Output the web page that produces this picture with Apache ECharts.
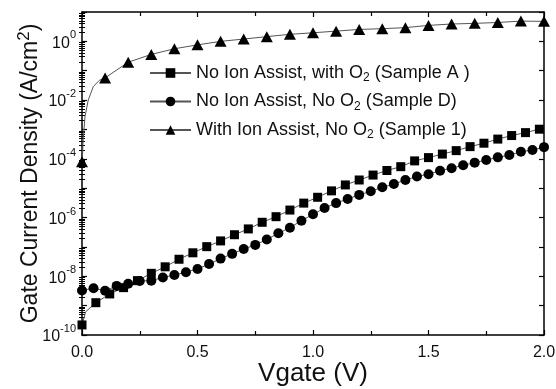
<!DOCTYPE html>
<html><head><meta charset="utf-8">
<script src="https://cdn.jsdelivr.net/npm/echarts@6/dist/echarts.min.js"></script>
<style>html,body{margin:0;padding:0;background:#fff}#c{width:556px;height:389px}</style>
</head><body><div id="c"></div>
<script>
// ---- data ----
const seriesNames = [
  'No Ion Assist, with O2 (Sample A )',
  'No Ion Assist, No O2 (Sample D)',
  'With Ion Assist, No O2 (Sample 1)'
];
const sampleAX = [0,0.06,0.12,0.18,0.24,0.30,0.36,0.42,0.48,0.54,0.60,0.66,0.72,0.78,0.84,0.90,0.96,1.02,1.08,1.14,1.20,1.26,1.32,1.38,1.44,1.50,1.56,1.62,1.68,1.74,1.80,1.86,1.92,1.98];
const sampleAY = [2.2e-10,1.26e-9,2.5e-9,4.1e-9,7.1e-9,1.26e-8,2.1e-8,3.8e-8,6.3e-8,1.02e-7,1.6e-7,2.6e-7,4.1e-7,6.9e-7,1.07e-6,1.8e-6,3.1e-6,4.9e-6,8.1e-6,1.29e-5,1.9e-5,2.8e-5,4.0e-5,5.4e-5,8.5e-5,1.1e-4,1.45e-4,1.9e-4,2.6e-4,3.4e-4,4.7e-4,6.2e-4,7.8e-4,1.02e-3];
const sampleAFitX = [0.016];
const sampleAFitY = [6.2e-10];
const sampleDX = [0,0.05,0.10,0.15,0.20,0.25,0.30,0.35,0.40,0.45,0.50,0.55,0.60,0.65,0.70,0.75,0.80,0.85,0.90,0.95,1.00,1.05,1.10,1.15,1.20,1.25,1.30,1.35,1.40,1.45,1.50,1.55,1.60,1.65,1.70,1.75,1.80,1.85,1.90,1.95,2.00];
const sampleDY = [3.3e-9,3.9e-9,3.2e-9,4.7e-9,5.6e-9,6.9e-9,7.1e-9,9.1e-9,1.1e-8,1.38e-8,1.78e-8,2.6e-8,4.0e-8,5.8e-8,8.5e-8,1.17e-7,1.8e-7,2.9e-7,4.5e-7,7.8e-7,1.29e-6,2.1e-6,3.1e-6,4.3e-6,5.9e-6,7.9e-6,1.07e-5,1.38e-5,1.9e-5,2.5e-5,3.0e-5,3.9e-5,4.8e-5,6.0e-5,7.4e-5,9.1e-5,1.12e-4,1.35e-4,1.74e-4,2.0e-4,2.5e-4];
const sample1X = [0,0.1,0.2,0.3,0.4,0.5,0.6,0.7,0.8,0.9,1.0,1.1,1.2,1.3,1.4,1.5,1.6,1.7,1.8,1.9,2.0];
const sample1Y = [7.9e-5,0.057,0.195,0.36,0.56,0.76,1.0,1.2,1.45,1.74,1.96,2.23,2.55,2.7,2.93,3.5,3.9,4.1,4.4,4.9,4.8];
const sample1FitX = [0.002,0.005,0.013,0.027,0.049,0.075];
const sample1FitY = [1.2e-4,4.4e-4,2.75e-3,1.0e-2,0.029,0.047];
const xTickLabels = ['0.0','0.5','1.0','1.5','2.0'];
const yMajorTicks = [1e-10,1e-9,1e-8,1e-7,1e-6,1e-5,1e-4,1e-3,1e-2,1e-1,1,10];
const yLabelValues = [1e-10,1e-8,1e-6,1e-4,1e-2,1];

// minor log ticks (2..9 in each decade)
const yMinorTicks = [];
for (let e = -10; e < 1; e++) for (let m = 2; m <= 9; m++) yMinorTicks.push(m * Math.pow(10, e));

function merge(xs, ys, fx, fy) {
  const pts = xs.map((x, i) => ({ value: [x, ys[i]] }));
  fx.forEach((x, i) => pts.push({ value: [x, fy[i]], symbol: 'none' }));
  pts.sort((a, b) => a.value[0] - b.value[0]);
  return pts;
}

const FONT = 'Liberation Sans, Arial, sans-serif';
const black = '#000';
const TXT = '#111';
const axisLine = { show: true, onZero: false, lineStyle: { color: black, width: 1.5 } };

const chart = echarts.init(document.getElementById('c'), null, { renderer: 'canvas' });
function legendFmt(name) {
  return name.replace('O2', 'O{sub|2}');
}

chart.setOption({
  animation: false,
  backgroundColor: '#fff',
  textStyle: { fontFamily: FONT },
  grid: { left: 82, right: 12, top: 12, bottom: 54, containLabel: false, outerBoundsMode: 'none' },
  legend: {
    orient: 'vertical', left: 144, top: 59, itemGap: 8.5,
    itemWidth: 41, itemHeight: 12, itemTextGap: 7,
    data: seriesNames,
    formatter: legendFmt,
    textStyle: { fontSize: 18, fontFamily: FONT, color: TXT,
      rich: { sub: { fontSize: 12, fontFamily: FONT, color: TXT, padding: [10, 0, 0, 0] } } }
  },
  xAxis: [
    {
      type: 'value', min: 0, max: 2, interval: 0.5, position: 'bottom',
      axisLine: axisLine,
      axisTick: { inside: true, length: 5, lineStyle: { color: black, width: 1.2 } },
      minorTick: { show: true, splitNumber: 2, length: 4, lineStyle: { color: black, width: 1.2 } },
      splitLine: { show: false },
      axisLabel: { fontSize: 16, color: TXT, margin: 10, fontFamily: FONT,
        formatter: v => xTickLabels[Math.round(v / 0.5)] },
      name: 'Vgate (V)', nameLocation: 'middle', nameGap: 26, nameMoveOverlap: false,
      nameTextStyle: { fontSize: 26, color: TXT, fontFamily: FONT }
    },
    {
      type: 'value', min: 0, max: 2, interval: 0.5, position: 'top',
      axisLine: axisLine,
      axisTick: { inside: true, length: 5, lineStyle: { color: black, width: 1.2 } },
      minorTick: { show: true, splitNumber: 2, length: 4, lineStyle: { color: black, width: 1.2 } },
      splitLine: { show: false }, axisLabel: { show: false }
    }
  ],
  yAxis: [
    {
      type: 'log', logBase: 10, min: 1e-10, max: 10, position: 'left',
      axisLine: axisLine,
      axisTick: { inside: true, length: 5, customValues: yMajorTicks, lineStyle: { color: black, width: 1.2 } },
      splitLine: { show: false },
      axisLabel: {
        customValues: yLabelValues, margin: 6, color: TXT,
        formatter: v => '{b|10}{sup|' + Math.round(Math.log10(v)) + '}',
        rich: {
          b: { fontSize: 16, fontFamily: FONT, color: TXT, padding: [4, 0, 0, 0] },
          sup: { fontSize: 11, fontFamily: FONT, color: TXT, padding: [0, 0, 12, 0] }
        }
      },
      name: '{n|Gate Current Density (A/cm}{sup|2}{n|)}',
      nameLocation: 'middle', nameGap: 37, nameMoveOverlap: false,
      nameTextStyle: {
        rich: {
          n: { fontSize: 23, fontFamily: FONT, color: TXT },
          sup: { fontSize: 17, fontFamily: FONT, color: TXT, padding: [0, 0, 12, 0] }
        }
      }
    },
    {
      type: 'log', logBase: 10, min: 1e-10, max: 10, position: 'left',
      axisLine: { show: false },
      axisTick: { inside: true, length: 3, customValues: yMinorTicks, lineStyle: { color: black, width: 1 } },
      splitLine: { show: false }, axisLabel: { show: false }
    },
    {
      type: 'log', logBase: 10, min: 1e-10, max: 10, position: 'right',
      axisLine: axisLine,
      axisTick: { inside: true, length: 5, customValues: yMajorTicks, lineStyle: { color: black, width: 1.2 } },
      splitLine: { show: false }, axisLabel: { show: false }
    },
    {
      type: 'log', logBase: 10, min: 1e-10, max: 10, position: 'right',
      axisLine: { show: false },
      axisTick: { inside: true, length: 3, customValues: yMinorTicks, lineStyle: { color: black, width: 1 } },
      splitLine: { show: false }, axisLabel: { show: false }
    }
  ],
  series: [
    {
      name: seriesNames[0], type: 'line', xAxisIndex: 0, yAxisIndex: 0,
      data: merge(sampleAX, sampleAY, sampleAFitX, sampleAFitY),
      symbol: 'rect', symbolSize: 9, showAllSymbol: true,
      lineStyle: { color: '#555', width: 1 }, itemStyle: { color: black }
    },
    {
      name: seriesNames[1], type: 'line', xAxisIndex: 0, yAxisIndex: 0,
      data: merge(sampleDX, sampleDY, [], []),
      symbol: 'circle', symbolSize: 10, showAllSymbol: true,
      lineStyle: { color: '#555', width: 1 }, itemStyle: { color: black }
    },
    {
      name: seriesNames[2], type: 'line', xAxisIndex: 0, yAxisIndex: 0,
      data: merge(sample1X, sample1Y, sample1FitX, sample1FitY),
      symbol: 'triangle', symbolSize: [12, 11], showAllSymbol: true,
      lineStyle: { color: '#555', width: 1 }, itemStyle: { color: black }
    }
  ]
});
</script>
</body></html>
